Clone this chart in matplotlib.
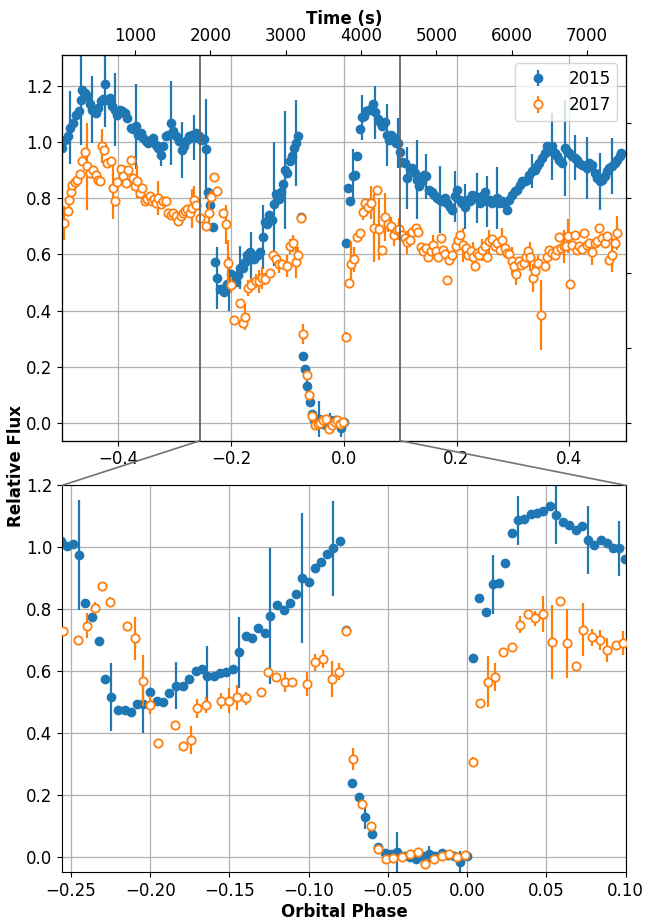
import numpy as np
import matplotlib.pyplot as plt
from matplotlib.patches import ConnectionPatch

plt.rcParams['font.size'] = 12

# 2015 light curve: orbital phase, relative flux, 1-sigma error
phase_2015 = [
    -0.4992, -0.4950, -0.4891, -0.4861, -0.4802, -0.4744, -0.4696, -0.4667, -0.4649, -0.4596,
    -0.4561, -0.4507, -0.4460, -0.4401, -0.4354, -0.4312, -0.4271, -0.4235, -0.4194, -0.4147,
    -0.4106, -0.4058, -0.4017, -0.3976, -0.3929, -0.3887, -0.3840, -0.3781, -0.3734, -0.3692,
    -0.3645, -0.3604, -0.3562, -0.3515, -0.3468, -0.3426, -0.3385, -0.3338, -0.3296, -0.3249,
    -0.3202, -0.3161, -0.3119, -0.3072, -0.3031, -0.2983, -0.2924, -0.2877, -0.2829, -0.2788,
    -0.2747, -0.2700, -0.2659, -0.2617,
    -0.2564, -0.2528, -0.2485, -0.2447, -0.2409, -0.2366, -0.2326, -0.2285, -0.2245, -0.2202,
    -0.2160, -0.2121, -0.2081, -0.2043, -0.2000, -0.1957, -0.1919, -0.1879, -0.1838, -0.1796,
    -0.1755, -0.1713, -0.1672, -0.1642, -0.1600, -0.1558, -0.1521, -0.1479, -0.1440, -0.1398,
    -0.1360, -0.1319, -0.1277, -0.1242, -0.1200, -0.1158, -0.1121, -0.1079, -0.1042, -0.1000,
    -0.0963, -0.0921, -0.0883, -0.0844, -0.0804, -0.0763, -0.0725, -0.0683, -0.0645, -0.0603,
    -0.0563, -0.0521, -0.0483, -0.0441, -0.0399, -0.0361, -0.0321, -0.0279, -0.0242, -0.0200,
    -0.0162, -0.0120, -0.0082, -0.0048, 0.0000, 0.0036, 0.0076, 0.0118, 0.0160, 0.0200,
    0.0240, 0.0280, 0.0318, 0.0358, 0.0400, 0.0442, 0.0480, 0.0522, 0.0560, 0.0602,
    0.0644, 0.0684, 0.0724, 0.0760, 0.0802, 0.0844, 0.0884, 0.0922, 0.0960, 0.0995,
    0.1037, 0.1085, 0.1126, 0.1167, 0.1214, 0.1262, 0.1303, 0.1333, 0.1380, 0.1421,
    0.1462, 0.1510, 0.1557, 0.1598, 0.1645, 0.1698, 0.1746, 0.1793, 0.1834, 0.1882,
    0.1923, 0.1970, 0.2012, 0.2053, 0.2100, 0.2147, 0.2189, 0.2230, 0.2277, 0.2325,
    0.2366, 0.2413, 0.2454, 0.2502, 0.2543, 0.2590, 0.2632, 0.2679, 0.2720, 0.2768,
    0.2809, 0.2856, 0.2898, 0.2939, 0.2986, 0.3033, 0.3075, 0.3122, 0.3163, 0.3210,
    0.3252, 0.3293, 0.3340, 0.3387, 0.3429, 0.3470, 0.3517, 0.3565, 0.3606, 0.3653,
    0.3695, 0.3742, 0.3783, 0.3825, 0.3872, 0.3919, 0.3961, 0.4002, 0.4049, 0.4097,
    0.4138, 0.4179, 0.4226, 0.4274, 0.4315, 0.4356, 0.4404, 0.4451, 0.4492, 0.4539,
    0.4581, 0.4628, 0.4669, 0.4711, 0.4758, 0.4805, 0.4847, 0.4894, 0.4923,
]
flux_2015 = [
    0.978, 1.008, 1.020, 1.050, 1.067, 1.097, 1.109, 1.150, 1.186, 1.174,
    1.162, 1.133, 1.115, 1.103, 1.120, 1.147, 1.153, 1.204, 1.150, 1.156,
    1.129, 1.115, 1.097, 1.115, 1.109, 1.103, 1.085, 1.050, 1.044, 1.055,
    1.026, 1.032, 1.014, 1.002, 0.996, 1.008, 1.014, 0.990, 0.978, 0.954,
    0.984, 1.020, 1.026, 1.067, 1.037, 1.020, 1.002, 0.972, 0.984, 1.008,
    1.020, 1.026, 1.014, 1.032,
    1.019, 1.005, 1.011, 0.975, 0.820, 0.776, 0.698, 0.574, 0.515, 0.475,
    0.475, 0.467, 0.494, 0.494, 0.531, 0.504, 0.501, 0.528, 0.553, 0.553,
    0.574, 0.599, 0.607, 0.583, 0.583, 0.594, 0.596, 0.607, 0.661, 0.714,
    0.706, 0.739, 0.722, 0.779, 0.814, 0.798, 0.820, 0.849, 0.900, 0.889,
    0.932, 0.951, 0.978, 0.997, 1.021, 0.733, 0.237, 0.192, 0.130, 0.073,
    0.032, 0.011, 0.009, 0.014, 0.003, -0.002, -0.008, 0.003, 0.009, 0.003,
    0.012, 0.005, 0.003, -0.016, 0.003, 0.641, 0.837, 0.790, 0.880, 0.883,
    0.950, 1.045, 1.087, 1.091, 1.109, 1.112, 1.117, 1.134, 1.105, 1.080,
    1.071, 1.056, 1.069, 1.024, 1.006, 1.023, 1.013, 0.996, 0.996, 0.963,
    0.928, 0.925, 0.871, 0.903, 0.907, 0.889, 0.865, 0.842, 0.859, 0.883,
    0.877, 0.830, 0.820, 0.812, 0.800, 0.794, 0.788, 0.800, 0.782, 0.770,
    0.759, 0.806, 0.830, 0.794, 0.782, 0.770, 0.794, 0.788, 0.812, 0.806,
    0.800, 0.782, 0.806, 0.820, 0.788, 0.794, 0.782, 0.788, 0.800, 0.782,
    0.788, 0.782, 0.759, 0.794, 0.812, 0.824, 0.830, 0.848, 0.859, 0.859,
    0.865, 0.883, 0.895, 0.901, 0.913, 0.925, 0.943, 0.960, 0.984, 0.966,
    0.984, 0.960, 0.948, 0.937, 0.925, 0.978, 0.966, 0.960, 0.948, 0.943,
    0.937, 0.925, 0.919, 0.913, 0.907, 0.925, 0.919, 0.889, 0.871, 0.859,
    0.865, 0.877, 0.895, 0.907, 0.913, 0.925, 0.937, 0.948, 0.960,
]
err_2015 = [
    0.01, 0.01, 0.01, 0.13, 0.01, 0.01, 0.01, 0.16, 0.01, 0.01,
    0.01, 0.01, 0.12, 0.01, 0.01, 0.01, 0.01, 0.15, 0.01, 0.01,
    0.01, 0.13, 0.01, 0.01, 0.01, 0.01, 0.01, 0.01, 0.01, 0.15,
    0.01, 0.01, 0.01, 0.01, 0.01, 0.01, 0.01, 0.01, 0.01, 0.04,
    0.01, 0.01, 0.01, 0.15, 0.01, 0.01, 0.01, 0.10, 0.01, 0.01,
    0.01, 0.01, 0.08, 0.01,
    0.01, 0.01, 0.01, 0.178, 0.01, 0.01, 0.01, 0.01, 0.11, 0.01,
    0.01, 0.01, 0.01, 0.095, 0.01, 0.01, 0.01, 0.01, 0.075, 0.01,
    0.01, 0.01, 0.01, 0.097, 0.01, 0.01, 0.01, 0.01, 0.115, 0.01,
    0.01, 0.01, 0.01, 0.22, 0.01, 0.01, 0.01, 0.01, 0.21, 0.01,
    0.01, 0.01, 0.01, 0.153, 0.01, 0.01, 0.01, 0.01, 0.04, 0.01,
    0.01, 0.01, 0.01, 0.065, 0.01, 0.01, 0.01, 0.01, 0.025, 0.01,
    0.01, 0.01, 0.01, 0.035, 0.01, 0.01, 0.01, 0.01, 0.095, 0.01,
    0.01, 0.01, 0.08, 0.01, 0.01, 0.01, 0.01, 0.01, 0.094, 0.01,
    0.01, 0.01, 0.01, 0.11, 0.01, 0.01, 0.01, 0.01, 0.088, 0.01,
    0.01, 0.01, 0.11, 0.01, 0.01, 0.01, 0.14, 0.01, 0.01, 0.01,
    0.08, 0.01, 0.01, 0.01, 0.01, 0.12, 0.01, 0.01, 0.01, 0.01,
    0.01, 0.09, 0.01, 0.01, 0.01, 0.08, 0.01, 0.01, 0.01, 0.01,
    0.09, 0.01, 0.01, 0.01, 0.09, 0.01, 0.01, 0.01, 0.11, 0.01,
    0.01, 0.01, 0.01, 0.01, 0.01, 0.01, 0.01, 0.01, 0.01, 0.01,
    0.01, 0.01, 0.06, 0.01, 0.01, 0.01, 0.01, 0.01, 0.01, 0.01,
    0.12, 0.01, 0.01, 0.01, 0.01, 0.17, 0.01, 0.01, 0.01, 0.08,
    0.01, 0.01, 0.01, 0.01, 0.11, 0.01, 0.01, 0.01, 0.01, 0.10,
    0.01, 0.01, 0.01, 0.01, 0.10, 0.01, 0.01, 0.01, 0.01,
]

# 2017 light curve
phase_2017 = [
    -0.4962, -0.4902, -0.4873, -0.4844, -0.4814, -0.4767, -0.4726, -0.4685, -0.4637, -0.4590,
    -0.4549, -0.4507, -0.4448, -0.4401, -0.4354, -0.4324, -0.4295, -0.4253, -0.4194, -0.4135,
    -0.4094, -0.4058, -0.4017, -0.3958, -0.3917, -0.3870, -0.3822, -0.3781, -0.3740, -0.3704,
    -0.3663, -0.3622, -0.3574, -0.3527, -0.3486, -0.3444, -0.3409, -0.3368, -0.3326, -0.3291,
    -0.3249, -0.3208, -0.3161, -0.3114, -0.3072, -0.3031, -0.2983, -0.2936, -0.2895, -0.2853,
    -0.2818, -0.2777, -0.2736, -0.2700, -0.2659, -0.2617,
    -0.2549, -0.2453, -0.2398, -0.2351, -0.2302, -0.2255, -0.2149, -0.2096, -0.2047, -0.2000,
    -0.1953, -0.1845, -0.1794, -0.1745, -0.1702, -0.1646, -0.1552, -0.1502, -0.1454, -0.1398,
    -0.1304, -0.1256, -0.1208, -0.1152, -0.1104, -0.1010, -0.0960, -0.0908, -0.0856, -0.0808,
    -0.0763, -0.0718, -0.0662, -0.0609, -0.0561, -0.0515, -0.0466, -0.0414, -0.0363, -0.0311,
    -0.0267, -0.0210, -0.0162, -0.0116, -0.0063, -0.0015, 0.0038, 0.0084, 0.0130, 0.0177,
    0.0226, 0.0280, 0.0333, 0.0382, 0.0429, 0.0479, 0.0536, 0.0585, 0.0632, 0.0686,
    0.0733, 0.0789, 0.0840, 0.0885, 0.0938, 0.0985,
    0.1037, 0.1085, 0.1126, 0.1167, 0.1214, 0.1273, 0.1320, 0.1362, 0.1409, 0.1450,
    0.1498, 0.1539, 0.1580, 0.1627, 0.1669, 0.1716, 0.1757, 0.1793, 0.1822, 0.1864,
    0.1911, 0.1982, 0.2029, 0.2070, 0.2112, 0.2159, 0.2206, 0.2248, 0.2289, 0.2325,
    0.2366, 0.2407, 0.2454, 0.2502, 0.2543, 0.2584, 0.2632, 0.2679, 0.2720, 0.2762,
    0.2809, 0.2856, 0.2898, 0.2939, 0.2986, 0.3027, 0.3063, 0.3104, 0.3151, 0.3193,
    0.3234, 0.3270, 0.3311, 0.3358, 0.3400, 0.3447, 0.3506, 0.3565, 0.3606, 0.3647,
    0.3695, 0.3742, 0.3783, 0.3813, 0.3860, 0.3901, 0.3943, 0.3978, 0.4019, 0.4049,
    0.4097, 0.4138, 0.4179, 0.4226, 0.4268, 0.4315, 0.4356, 0.4404, 0.4451, 0.4492,
    0.4533, 0.4581, 0.4628, 0.4669, 0.4711, 0.4758, 0.4805, 0.4847,
]
flux_2017 = [
    0.711, 0.753, 0.794, 0.820, 0.848, 0.856, 0.865, 0.887, 0.931, 0.963,
    0.913, 0.889, 0.899, 0.883, 0.865, 0.859, 0.986, 0.972, 0.925, 0.931,
    0.836, 0.788, 0.856, 0.903, 0.877, 0.854, 0.899, 0.937, 0.871, 0.842,
    0.859, 0.818, 0.836, 0.788, 0.797, 0.806, 0.788, 0.797, 0.782, 0.800,
    0.780, 0.788, 0.788, 0.747, 0.741, 0.747, 0.735, 0.717, 0.735, 0.747,
    0.753, 0.761, 0.747, 0.764, 0.794, 0.776,
    0.728, 0.701, 0.747, 0.804, 0.874, 0.824, 0.747, 0.706, 0.569, 0.491,
    0.367, 0.426, 0.357, 0.377, 0.480, 0.491, 0.504, 0.504, 0.515, 0.512,
    0.533, 0.598, 0.582, 0.566, 0.566, 0.558, 0.628, 0.639, 0.574, 0.598,
    0.728, 0.317, 0.170, 0.100, 0.025, -0.008, -0.005, 0.001, 0.009, 0.014,
    -0.022, -0.008, 0.003, 0.009, -0.002, 0.005, 0.307, 0.497, 0.566, 0.582,
    0.661, 0.677, 0.750, 0.784, 0.770, 0.784, 0.693, 0.828, 0.690, 0.615,
    0.734, 0.709, 0.700, 0.668, 0.685, 0.690,
    0.670, 0.658, 0.642, 0.652, 0.678, 0.693, 0.681, 0.626, 0.610, 0.622,
    0.592, 0.610, 0.634, 0.610, 0.592, 0.658, 0.616, 0.602, 0.507, 0.580,
    0.598, 0.628, 0.652, 0.670, 0.634, 0.622, 0.598, 0.610, 0.592, 0.557,
    0.604, 0.598, 0.616, 0.628, 0.592, 0.646, 0.654, 0.628, 0.640, 0.616,
    0.652, 0.622, 0.604, 0.602, 0.575, 0.557, 0.531, 0.575, 0.563, 0.569,
    0.592, 0.610, 0.592, 0.515, 0.539, 0.569, 0.385, 0.557, 0.592, 0.616,
    0.604, 0.598, 0.616, 0.661, 0.622, 0.628, 0.630, 0.664, 0.494, 0.634,
    0.670, 0.616, 0.628, 0.618, 0.675, 0.634, 0.640, 0.607, 0.640, 0.646,
    0.693, 0.658, 0.640, 0.664, 0.580, 0.598, 0.640, 0.675,
]
err_2017 = [
    0.06, 0.01, 0.05, 0.01, 0.01, 0.01, 0.01, 0.01, 0.01, 0.01,
    0.155, 0.01, 0.01, 0.01, 0.01, 0.01, 0.06, 0.01, 0.01, 0.01,
    0.11, 0.01, 0.01, 0.01, 0.01, 0.01, 0.01, 0.01, 0.01, 0.01,
    0.06, 0.01, 0.01, 0.01, 0.01, 0.01, 0.01, 0.01, 0.01, 0.06,
    0.01, 0.01, 0.01, 0.01, 0.01, 0.01, 0.01, 0.01, 0.01, 0.01,
    0.01, 0.01, 0.01, 0.07, 0.05, 0.01,
    0.01, 0.01, 0.04, 0.02, 0.01, 0.015, 0.01, 0.07, 0.082, 0.03,
    0.01, 0.01, 0.01, 0.045, 0.03, 0.025, 0.025, 0.04, 0.04, 0.022,
    0.01, 0.01, 0.01, 0.032, 0.01, 0.038, 0.027, 0.03, 0.057, 0.027,
    0.01, 0.035, 0.01, 0.01, 0.01, 0.01, 0.01, 0.01, 0.01, 0.01,
    0.01, 0.01, 0.01, 0.01, 0.01, 0.01, 0.015, 0.01, 0.082, 0.045,
    0.015, 0.01, 0.028, 0.01, 0.025, 0.058, 0.12, 0.01, 0.112, 0.01,
    0.085, 0.028, 0.033, 0.038, 0.01, 0.038,
    0.01, 0.01, 0.04, 0.01, 0.01, 0.01, 0.01, 0.01, 0.01, 0.01,
    0.01, 0.01, 0.035, 0.01, 0.01, 0.01, 0.01, 0.01, 0.01, 0.01,
    0.01, 0.01, 0.01, 0.01, 0.06, 0.01, 0.01, 0.01, 0.05, 0.01,
    0.01, 0.01, 0.04, 0.01, 0.01, 0.04, 0.01, 0.01, 0.01, 0.01,
    0.04, 0.01, 0.01, 0.01, 0.05, 0.01, 0.04, 0.01, 0.01, 0.01,
    0.01, 0.01, 0.05, 0.05, 0.01, 0.03, 0.125, 0.01, 0.01, 0.01,
    0.01, 0.01, 0.01, 0.01, 0.01, 0.06, 0.01, 0.06, 0.01, 0.01,
    0.01, 0.01, 0.01, 0.01, 0.01, 0.01, 0.01, 0.045, 0.01, 0.01,
    0.01, 0.01, 0.01, 0.01, 0.01, 0.06, 0.01, 0.06,
]

phase_ticks_full = [-0.4, -0.2, 0.0, 0.2, 0.4]
phase_ticks_zoom = [-0.25, -0.20, -0.15, -0.10, -0.05, 0.00, 0.05, 0.10]
flux_ticks = [0.0, 0.2, 0.4, 0.6, 0.8, 1.0, 1.2]
time_ticks = [1000, 2000, 3000, 4000, 5000, 6000, 7000]

PERIOD = 7485.0        # orbital period in s
PHASE_AT_T0 = -0.504   # phase at time 0
FULL_X = (-0.5, 0.5)
ZOOM_X = (-0.2555, 0.1)
FULL_Y = (-0.063, 1.31)
ZOOM_Y = (-0.05, 1.2)

fig = plt.figure(figsize=(6.47, 9.22), dpi=100)
ax1 = fig.add_axes([0.0958, 0.522, 0.8712, 0.4187])
ax2 = fig.add_axes([0.0963, 0.0539, 0.8707, 0.4197])


def draw_curves(ax):
    ax.errorbar(phase_2015, flux_2015, yerr=err_2015, fmt='o', color='C0',
                ms=6, elinewidth=1.6, label='2015', zorder=2)
    ax.errorbar(phase_2017, flux_2017, yerr=err_2017, fmt='o', color='C1',
                mfc='white', mec='C1', mew=1.3, ms=6, elinewidth=1.6,
                label='2017', zorder=3)
    ax.set_yticks(flux_ticks)
    ax.grid(True, color='#b0b0b0', lw=0.9)
    ax.set_axisbelow(True)


draw_curves(ax1)
ax1.set_xlim(FULL_X)
ax1.set_ylim(FULL_Y)
ax1.set_xticks(phase_ticks_full)
ax1.legend(loc='upper right', fontsize=12)

# zoom window markers
for xv in ZOOM_X:
    ax1.axvline(xv, color='0.4', lw=1.3, zorder=4)

# time axis on top
axt = ax1.twiny()
axt.set_xlim((np.array(FULL_X) - PHASE_AT_T0) * PERIOD)
axt.set_xticks(time_ticks)
axt.set_xlabel('Time (s)', fontweight='bold', labelpad=2)

# unlabelled ticks on the right
axr = ax1.twinx()
axr.set_ylim(np.array(FULL_Y) / 0.2667)
axr.set_yticks([0, 1, 2, 3, 4])
axr.tick_params(labelright=False)

draw_curves(ax2)
ax2.set_xlim(ZOOM_X)
ax2.set_ylim(ZOOM_Y)
ax2.set_xticks(phase_ticks_zoom)
ax2.set_xlabel('Orbital Phase', fontweight='bold', labelpad=2)

for xa, xb in [(ZOOM_X[0], 0), (ZOOM_X[1], 1)]:
    con = ConnectionPatch(xyA=(xa, FULL_Y[0]), coordsA=ax1.transData,
                          xyB=(xb, 1), coordsB=ax2.transAxes,
                          color='0.45', lw=1.2)
    fig.add_artist(con)

fig.text(0.024, 0.495, 'Relative Flux', rotation=90, ha='center', va='center',
         fontweight='bold', fontsize=12)

fig.savefig('out.png', dpi=100)
